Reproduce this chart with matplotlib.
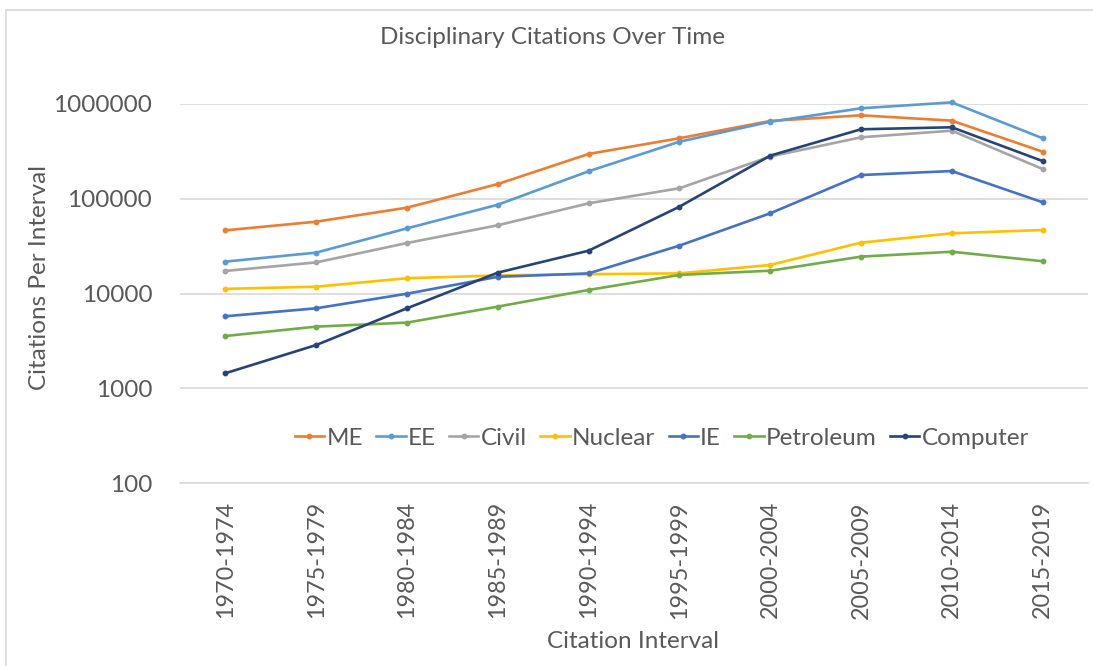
import numpy as np
import matplotlib
matplotlib.use('Agg')
import matplotlib.pyplot as plt
from matplotlib.lines import Line2D
from matplotlib.ticker import FixedLocator, FixedFormatter, NullLocator

# Citation intervals (x categories)
intervals = ['1970-1974', '1975-1979', '1980-1984', '1985-1989', '1990-1994',
             '1995-1999', '2000-2004', '2005-2009', '2010-2014', '2015-2019']

# Citations per interval (log scale)
me = [46400, 57300, 80500, 143000, 297000, 435000, 662000, 760000, 667000, 314000]
ee = [21700, 27000, 48700, 86500, 195000, 400000, 650000, 901000, 1040000, 435000]
civil = [17300, 21300, 34100, 52500, 89500, 129000, 279000, 445000, 523000, 206000]
nuclear = [11200, 11800, 14500, 15500, 16000, 16300, 20000, 34400, 43200, 46800]
ie = [5750, 6980, 9950, 15000, 16300, 32000, 70200, 178000, 196000, 91800]
petroleum = [3560, 4470, 4930, 7270, 10900, 15700, 17400, 24500, 27600, 21900]
computer = [1440, 2860, 6980, 16600, 28300, 82400, 285000, 541000, 568000, 250000]

series_names = ['ME', 'EE', 'Civil', 'Nuclear', 'IE', 'Petroleum', 'Computer']
series_values = [me, ee, civil, nuclear, ie, petroleum, computer]
series_colors = ['#ED7D31', '#5B9BD5', '#A5A5A5', '#FFC000', '#4472C4', '#70AD47', '#264478']

y_ticks = [100, 1000, 10000, 100000, 1000000]

text_color = '#595959'
fs = 17.5
plt.rcParams['font.family'] = ['Lato', 'DejaVu Sans']

fig = plt.figure(figsize=(10.93, 6.66), dpi=100)
ax = fig.add_axes([180 / 1093, 1 - 483 / 666, 908 / 1093, 379 / 666])

x = np.arange(len(intervals))
for name, vals, col in zip(series_names, series_values, series_colors):
    ax.plot(x, vals, color=col, linewidth=1.9, marker='o', markersize=3.2,
            label=name, clip_on=False, zorder=3)

ax.set_yscale('log')
ax.set_ylim(100, 1000000)
ax.set_xlim(-0.5, len(intervals) - 0.5)
ax.yaxis.set_major_locator(FixedLocator(y_ticks))
ax.yaxis.set_major_formatter(FixedFormatter([str(v) for v in y_ticks]))
ax.yaxis.set_minor_locator(NullLocator())
ax.set_xticks(x)
ax.set_xticklabels(intervals, rotation=90)

ax.grid(axis='y', color='#D9D9D9', linewidth=1.2, zorder=0)
ax.set_axisbelow(True)
for side in ['top', 'right', 'left']:
    ax.spines[side].set_visible(False)
ax.spines['bottom'].set_color('#D9D9D9')
ax.spines['bottom'].set_linewidth(1.2)
ax.tick_params(axis='both', length=0, labelsize=fs, colors=text_color)
ax.tick_params(axis='x', labelsize=16.8, pad=13)
ax.tick_params(axis='y', pad=20)

fig.text(40 / 1093, 1 - 278 / 666, 'Citations Per Interval', fontsize=fs, rotation=90,
         color=text_color, ha='center', va='center')
fig.text(633 / 1093, 1 - 641 / 666, 'Citation Interval', fontsize=fs,
         color=text_color, ha='center', va='center')
fig.text(553 / 1093, 1 - 37 / 666, 'Disciplinary Citations Over Time', fontsize=fs,
         color=text_color, ha='center', va='center')

leg = ax.legend(loc='center', bbox_to_anchor=((662 - 180) / 908, (483 - 438) / 379),
                ncol=7, frameon=False, fontsize=fs, handlelength=1.2,
                handletextpad=0.1, columnspacing=0.55, borderaxespad=0)
for t in leg.get_texts():
    t.set_color(text_color)

# light chart-area border (top and left edges visible)
fig.add_artist(Line2D([6 / 1093, 6 / 1093], [0, 1 - 10 / 666], transform=fig.transFigure,
                      color='#D9D9D9', linewidth=1.2))
fig.add_artist(Line2D([6 / 1093, 1], [1 - 10 / 666, 1 - 10 / 666], transform=fig.transFigure,
                      color='#D9D9D9', linewidth=1.2))

fig.savefig('out.png', dpi=100)
